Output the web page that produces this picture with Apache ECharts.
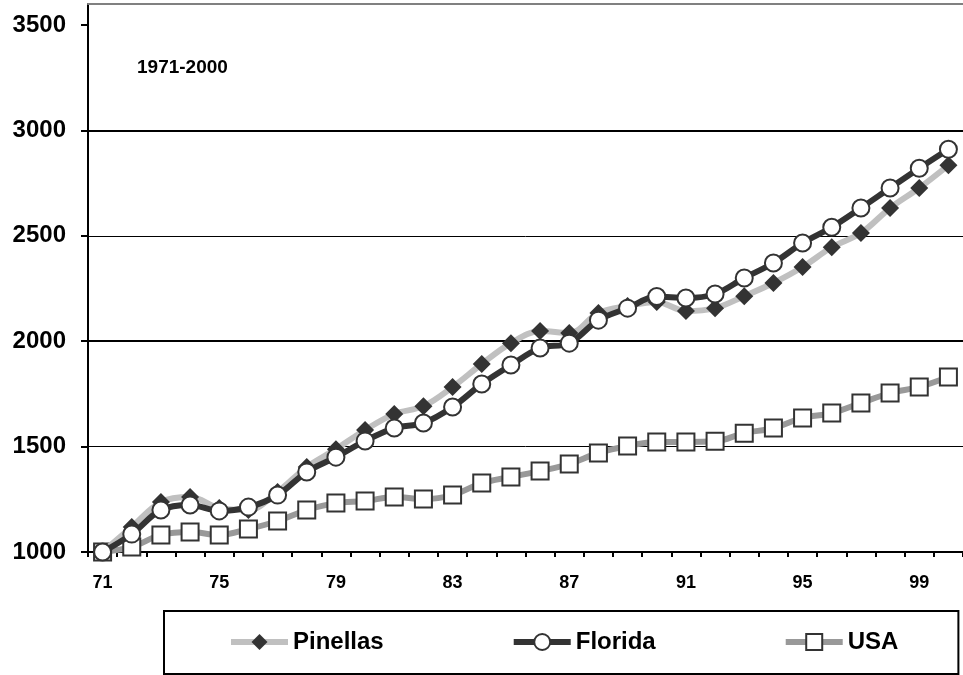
<!DOCTYPE html>
<html>
<head>
<meta charset="utf-8">
<script src="https://cdn.jsdelivr.net/npm/echarts@6/dist/echarts.min.js"></script>
<style>
html,body{margin:0;padding:0;background:#fff;}
#chart{width:963px;height:675px;}
</style>
</head>
<body>
<div id="chart"></div>
<script>
const years = ['71','72','73','74','75','76','77','78','79','80','81','82','83','84','85','86','87','88','89','90','91','92','93','94','95','96','97','98','99','00'];
const pinellas = [1000,1119,1237,1261,1209,1199,1285,1403,1488,1579,1655,1692,1783,1892,1991,2048,2039,2134,2167,2186,2143,2157,2214,2276,2352,2446,2513,2632,2727,2835];
const florida = [1000,1085,1199,1223,1195,1213,1270,1380,1450,1527,1588,1612,1688,1797,1887,1968,1991,2100,2157,2212,2205,2224,2300,2371,2466,2541,2632,2727,2821,2911];
const usa = [1000,1024,1081,1095,1081,1109,1147,1199,1232,1242,1261,1251,1270,1327,1356,1384,1417,1470,1503,1522,1522,1525,1564,1588,1636,1659,1707,1754,1783,1830];
const yTicks = [1000,1500,2000,2500,3000,3500];
const periodLabel = '1971-2000';

const FONT = '"Liberation Sans", Arial, sans-serif';
const chart = echarts.init(document.getElementById('chart'), null, {renderer:'canvas'});
chart.setOption({
  animation: false,
  backgroundColor: '#ffffff',
  title: {
    text: periodLabel, left: 137, top: 58, padding: 0,
    textStyle: {fontFamily: FONT, fontSize: 19, fontWeight: 'bold', color: '#000'}
  },
  legend: {
    left: 164, top: 611, width: 690,
    orient: 'horizontal',
    padding: [19, 60, 20, 64],
    itemGap: 127,
    itemWidth: 57, itemHeight: 20,
    borderColor: '#000', borderWidth: 2, borderRadius: 0,
    lineStyle: {width: 6},
    textStyle: {fontFamily: FONT, fontSize: 24, fontWeight: 'bold', color: '#000'},
    data: ['Pinellas','Florida','USA']
  },
  grid: {left: 88, top: 4, right: -10, bottom: 123, containLabel: false},
  xAxis: [{
    type: 'category', data: years, boundaryGap: true,
    axisLine: {show: true, lineStyle: {color: '#000', width: 2}},
    axisTick: {show: true, interval: 0, length: 5, inside: false, lineStyle: {color: '#000', width: 2}},
    axisLabel: {interval: 3, margin: 22, fontFamily: FONT, fontSize: 18, fontWeight: 'bold', color: '#000'},
    splitLine: {show: false}
  }, {
    type: 'category', data: years, boundaryGap: true, position: 'top',
    axisLine: {show: true, lineStyle: {color: '#808080', width: 2}},
    axisTick: {show: false}, axisLabel: {show: false}, splitLine: {show: false}
  }],
  yAxis: [{
    type: 'value', min: 1000, max: 3600, interval: 500,
    axisLine: {show: true, lineStyle: {color: '#000', width: 2}},
    axisTick: {show: true, length: 7, lineStyle: {color: '#000', width: 2}, customValues: yTicks},
    axisLabel: {margin: 22, fontFamily: FONT, fontSize: 24, fontWeight: 'bold', color: '#000', customValues: yTicks,
      formatter: function (v) { return String(v); }},
    splitLine: {show: true, showMaxLine: false, lineStyle: {color: '#000', width: 1}}
  }, {
    type: 'value', min: 1000, max: 3600, interval: 1000, position: 'left',
    axisLine: {show: false}, axisTick: {show: false}, axisLabel: {show: false},
    splitLine: {show: true, showMaxLine: false, showMinLine: false, lineStyle: {color: '#000', width: 2}}
  }],
  series: [{
    name: 'Pinellas', type: 'line', data: pinellas, smooth: 0.35, z: 3,
    symbol: 'diamond', symbolSize: 18,
    lineStyle: {color: '#c0c0c0', width: 6},
    itemStyle: {color: '#333333', borderWidth: 0}
  }, {
    name: 'Florida', type: 'line', data: florida, smooth: 0.35, z: 4,
    symbol: 'circle', symbolSize: 17,
    lineStyle: {color: '#333333', width: 6},
    itemStyle: {color: '#ffffff', borderColor: '#333333', borderWidth: 2}
  }, {
    name: 'USA', type: 'line', data: usa, smooth: 0.35, z: 2,
    symbol: 'rect', symbolSize: 17,
    lineStyle: {color: '#999999', width: 6},
    itemStyle: {color: '#ffffff', borderColor: '#333333', borderWidth: 2}
  }]
});
</script>
</body>
</html>
